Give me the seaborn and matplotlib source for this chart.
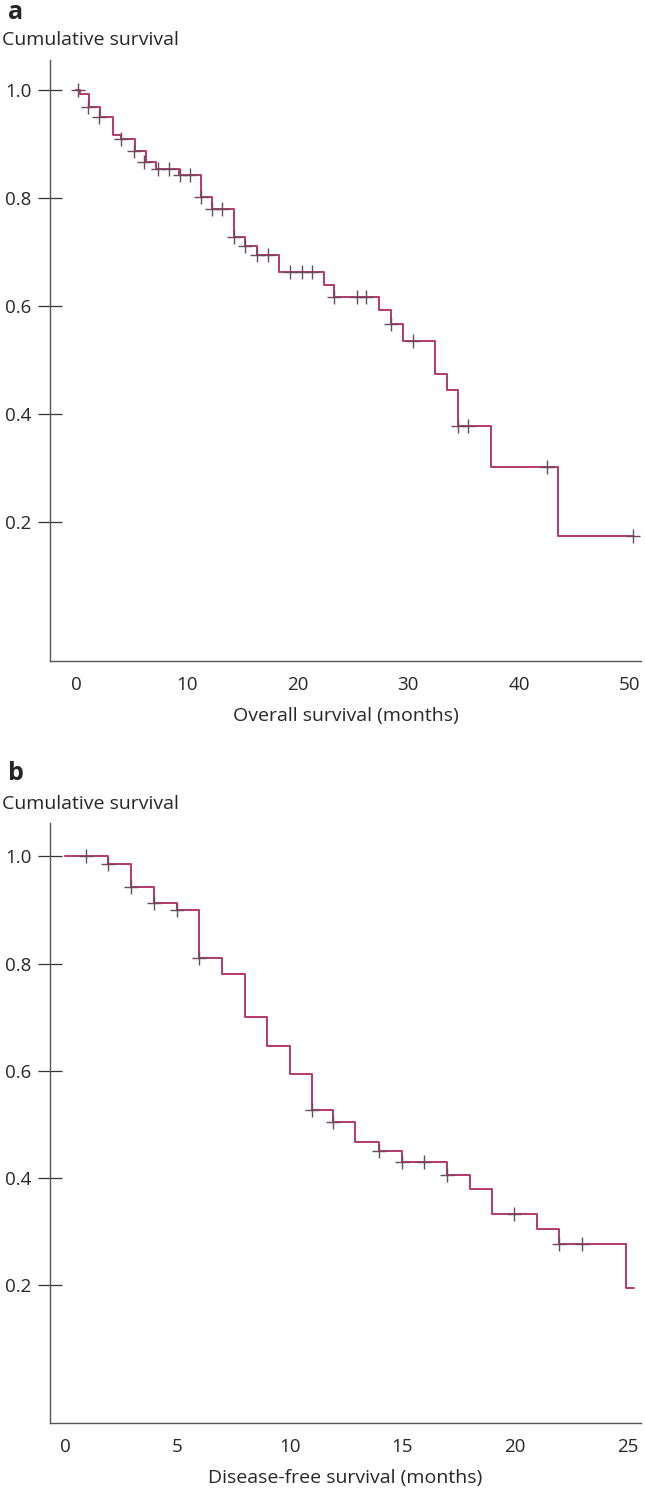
import matplotlib
matplotlib.use("Agg")
from matplotlib import pyplot as plt
import pandas as pd
import seaborn as sns

# panel a: overall survival
os_time = [0, 0.35, 1.2, 2.2, 3.3, 4.1, 5.3, 6.3, 7.2, 9.3, 11.3, 12.3, 14.3, 15.3,
           16.3, 18.3, 22.4, 23.3, 27.4, 28.4, 29.5, 32.4, 33.5, 34.5, 37.5, 43.5, 50.3]
os_surv = [1.0, 0.993, 0.970, 0.950, 0.918, 0.909, 0.887, 0.867, 0.855, 0.844, 0.803,
           0.780, 0.729, 0.712, 0.695, 0.663, 0.640, 0.618, 0.594, 0.567, 0.535, 0.474,
           0.445, 0.378, 0.302, 0.174, 0.174]
os_cens_time = [0.15, 1.1, 2.1, 4.1, 5.2, 6.1, 7.4, 8.4, 9.4, 10.3, 11.3, 12.3, 13.2,
                14.3, 15.3, 16.3, 17.3, 19.3, 20.4, 21.3, 23.3, 25.4, 26.2, 28.4, 30.4,
                34.5, 35.4, 42.5, 50.3]
os_cens_surv = [1.0, 0.970, 0.950, 0.909, 0.887, 0.867, 0.855, 0.855, 0.844, 0.844,
                0.803, 0.780, 0.780, 0.729, 0.712, 0.695, 0.695, 0.663, 0.663, 0.663,
                0.618, 0.618, 0.618, 0.567, 0.535, 0.378, 0.378, 0.302, 0.174]

# panel b: disease-free survival
dfs_time = [0, 1.9, 2.93, 3.96, 4.97, 5.97, 6.97, 8.0, 8.97, 10.0, 11.0, 11.9, 12.9,
            13.96, 15.0, 17.0, 18.0, 19.0, 21.0, 21.96, 24.95, 25.3]
dfs_surv = [1.0, 0.985, 0.943, 0.913, 0.900, 0.810, 0.780, 0.700, 0.646, 0.594, 0.526,
            0.505, 0.468, 0.450, 0.430, 0.406, 0.380, 0.333, 0.305, 0.276, 0.195, 0.195]
dfs_cens_time = [0.93, 1.9, 2.93, 3.96, 4.97, 5.97, 11.0, 11.9, 13.96, 15.0, 15.96,
                 17.0, 19.96, 21.96, 22.98]
dfs_cens_surv = [1.0, 0.985, 0.943, 0.913, 0.900, 0.810, 0.526, 0.505, 0.450, 0.430,
                 0.430, 0.406, 0.333, 0.276, 0.276]

yticks = [0.2, 0.4, 0.6, 0.8, 1.0]

sns.set_style("white")
plt.rcParams["font.family"] = ["Open Sans", "DejaVu Sans"]

line_col = "#b5386a"
cens_col = "#6a4a5c"
axis_col = "#555555"

fig = plt.figure(figsize=(6.45, 14.91), dpi=100)

panels = [
    dict(pos=[0.0775, 0.5567, 0.916, 0.403], t=os_time, s=os_surv,
         ct=os_cens_time, cs=os_cens_surv, xlim=(-2.35, 51.0), ylim=(-0.057, 1.056),
         xticks=[0, 10, 20, 30, 40, 50], xlabel="Overall survival (months)",
         letter="a", ly=0.9872, cy=0.9698),
    dict(pos=[0.0775, 0.0456, 0.916, 0.4024], t=dfs_time, s=dfs_surv,
         ct=dfs_cens_time, cs=dfs_cens_surv, xlim=(-0.67, 25.6), ylim=(-0.057, 1.062),
         xticks=[0, 5, 10, 15, 20, 25], xlabel="Disease-free survival (months)",
         letter="b", ly=0.4769, cy=0.4574),
]

for p in panels:
    ax = fig.add_axes(p["pos"])
    df = pd.DataFrame({"time": p["t"], "surv": p["s"]})
    sns.lineplot(data=df, x="time", y="surv", drawstyle="steps-post", color=line_col,
                 linewidth=1.4, ax=ax, estimator=None, sort=False)
    cdf = pd.DataFrame({"time": p["ct"], "surv": p["cs"]})
    sns.scatterplot(data=cdf, x="time", y="surv", marker="+", s=110, color=cens_col,
                    linewidth=1.0, ax=ax, zorder=3)
    ax.set_xlim(p["xlim"])
    ax.set_ylim(p["ylim"])
    ax.set_xticks(p["xticks"])
    ax.set_yticks(yticks)
    ax.set_yticklabels([f"{v:.1f}" for v in yticks])
    for side in ["top", "right"]:
        ax.spines[side].set_visible(False)
    for side in ["left", "bottom"]:
        ax.spines[side].set_color(axis_col)
        ax.spines[side].set_linewidth(1.0)
    ax.tick_params(axis="y", direction="inout", length=17, width=0.9, color="#333333",
                   labelsize=13.5, pad=5, left=True)
    ax.tick_params(axis="x", length=0, labelsize=13.5, pad=11)
    ax.set_xlabel(p["xlabel"], fontsize=14, labelpad=9)
    ax.set_ylabel("")
    fig.text(0.012, p["ly"], p["letter"], fontsize=18, fontweight="bold", va="baseline")
    fig.text(0.003, p["cy"], "Cumulative survival", fontsize=14, va="baseline")

fig.savefig("out.png", dpi=100)
